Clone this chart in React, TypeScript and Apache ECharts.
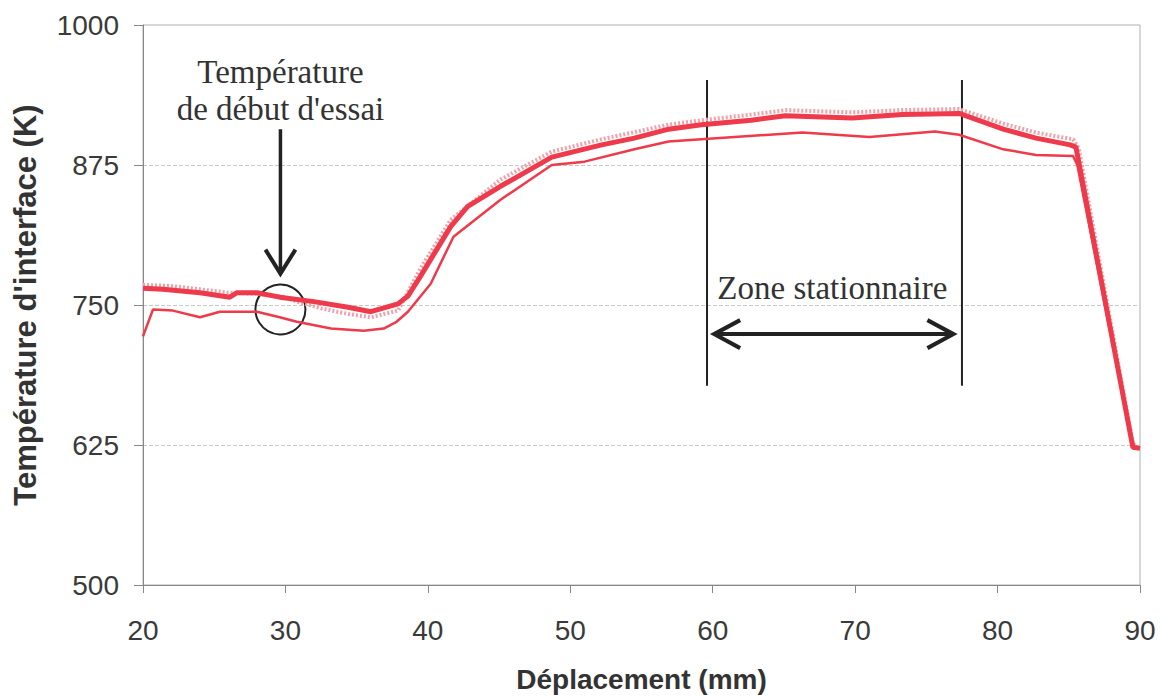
import React, { useEffect, useRef } from "react";
import * as echarts from "echarts";

// Thick red curve
const upperX = [20, 21.4, 24, 26.1, 26.6, 28, 29.6, 32, 34.4, 36, 37.9, 38.6, 39.5, 40.5, 41.6, 42.8, 45.1, 48.7, 52.2, 54.5, 56.9, 59.2, 62.7, 65.1, 69.8, 73.3, 77.3, 80.4, 82.7, 85.1, 85.5, 89.5, 90];
const upperY = [765, 764, 761, 757, 761, 761, 757, 753, 748, 744, 751, 758, 776, 797, 820, 838, 856, 882, 893, 899, 907, 911, 915, 919, 917, 920, 921, 907, 899, 893, 891, 623, 622];

// Thin red curve (lower)
const lowerX = [20, 20.7, 22.1, 24, 25.4, 28, 29.6, 30.8, 33.2, 35.5, 36.9, 37.8, 38.6, 40.2, 41.8, 45.1, 48.7, 51, 54.5, 56.9, 59.2, 66.3, 71, 75.6, 77.3, 80.4, 82.7, 85.3, 85.6, 89.5, 90];
const lowerY = [722, 746, 745, 739, 744, 744, 739, 735, 729, 727, 729, 735, 744, 769, 811, 844, 875, 878, 889, 896, 898, 904, 900, 905, 902, 889, 884, 883, 875, 623, 622];

// Light dotted pink curve
const pinkX = [20, 22, 24, 26, 28, 30, 30.8, 32.5, 34.4, 36, 37.9, 39.5, 41.6, 45.1, 48.7, 52.2, 56.9, 59.2, 62.7, 65.1, 69.8, 73.3, 77.3, 80.4, 82.7, 85.3, 85.7, 89.5, 90];
const pinkY = [768, 767, 764, 761, 760, 757, 753, 747, 742, 739, 745, 783, 826, 862, 887, 898, 911, 915, 920, 924, 922, 924, 925, 912, 904, 898, 890, 626, 622];

const xTicks = [20, 30, 40, 50, 60, 70, 80, 90];
const yTicks = [500, 625, 750, 875, 1000];

// Annotation anchors (data coordinates)
const startPoint = [29.65, 746];
const startArrowTop = [29.65, 907];
const startArrowTip = [29.65, 778];
const startLabelLines = ["Température", "de début d'essai"];
const startLabelY = [958, 925];
const zoneBounds = [59.6, 77.5];
const zoneLineY = [951, 678];
const zoneArrowX = [60.1, 76.9];
const zoneArrowY = 724;
const zoneLabel = "Zone stationnaire";
const zoneLabelPos = [68.4, 765];

const zip = (xs: number[], ys: number[]) => xs.map((x, i) => [x, ys[i]]);

export default function App() {
  const ref = useRef<HTMLDivElement>(null);
  useEffect(() => {
    const chart = echarts.init(ref.current!, null, { renderer: "svg" });
    const red = "#ee3a4a";
    chart.setOption({
      animation: false,
      backgroundColor: "#ffffff",
      grid: { left: 143, right: 22, top: 25, bottom: 111, show: true, borderColor: "#b0b0b0", borderWidth: 1 },
      xAxis: {
        type: "value",
        min: xTicks[0],
        max: xTicks[xTicks.length - 1],
        interval: 10,
        name: "Déplacement (mm)",
        nameLocation: "middle",
        nameGap: 80,
        nameTextStyle: { fontFamily: "Liberation Sans", fontWeight: "bold", fontSize: 28, color: "#333" },
        axisLine: { lineStyle: { color: "#888", width: 1 } },
        axisTick: { show: true, length: 8, lineStyle: { color: "#888" } },
        axisLabel: { fontFamily: "Liberation Sans", fontSize: 28, color: "#3a3a3a", margin: 31, formatter: (v: number) => String(v) },
        splitLine: { show: false },
      },
      yAxis: {
        type: "value",
        min: yTicks[0],
        max: yTicks[yTicks.length - 1],
        interval: 125,
        name: "Température d'interface (K)",
        nameLocation: "middle",
        nameGap: 102,
        nameTextStyle: { fontFamily: "Liberation Sans", fontWeight: "bold", fontSize: 31, color: "#333" },
        axisLine: { show: true, lineStyle: { color: "#888", width: 1 } },
        axisTick: { show: true, length: 9, lineStyle: { color: "#888" } },
        axisLabel: { fontFamily: "Liberation Sans", fontSize: 28, color: "#3a3a3a", margin: 24, formatter: (v: number) => String(v) },
        splitLine: { show: true, showMinLine: false, showMaxLine: false, lineStyle: { color: "#c8c8c8", type: "dashed", width: 1 } },
      },
      series: [
        {
          type: "line",
          data: zip(pinkX, pinkY),
          showSymbol: false,
          silent: true,
          lineStyle: { color: "#f2a0a8", width: 4, type: [2, 2] },
        },
        {
          type: "line",
          data: zip(upperX, upperY),
          showSymbol: false,
          silent: true,
          lineStyle: { color: red, width: 5 },
        },
        {
          type: "line",
          data: zip(lowerX, lowerY),
          showSymbol: false,
          silent: true,
          lineStyle: { color: red, width: 2.5 },
        },
      ],
    });

    const p = (x: number, y: number) => chart.convertToPixel({ gridIndex: 0 }, [x, y]) as number[];
    const ink = "#222";
    const graphic: any[] = [];

    // vertical arrow + circle
    const top = p(startArrowTop[0], startArrowTop[1]);
    const tip = p(startArrowTip[0], startArrowTip[1]);
    graphic.push({ type: "line", shape: { x1: top[0], y1: top[1], x2: tip[0], y2: tip[1] - 2 }, style: { stroke: ink, lineWidth: 3.5 } });
    graphic.push({ type: "polyline", shape: { points: [[tip[0] - 15, tip[1] - 24], [tip[0], tip[1]], [tip[0] + 15, tip[1] - 24]] }, style: { stroke: ink, lineWidth: 4, fill: null } });
    const c = p(startPoint[0], startPoint[1]);
    graphic.push({ type: "circle", shape: { cx: c[0], cy: c[1], r: 25 }, style: { stroke: ink, lineWidth: 2, fill: null } });
    startLabelLines.forEach((t, i) => {
      const q = p(startPoint[0], startLabelY[i]);
      graphic.push({ type: "text", x: q[0], y: q[1], style: { text: t, fontFamily: "Liberation Serif", fontSize: 33, fill: "#333", align: "center", verticalAlign: "middle" } });
    });

    // zone lines
    zoneBounds.forEach((bx) => {
      const a = p(bx, zoneLineY[0]);
      const b = p(bx, zoneLineY[1]);
      graphic.push({ type: "line", shape: { x1: a[0], y1: a[1], x2: b[0], y2: b[1] }, style: { stroke: ink, lineWidth: 2 } });
    });
    const l = p(zoneArrowX[0], zoneArrowY);
    const r = p(zoneArrowX[1], zoneArrowY);
    graphic.push({ type: "line", shape: { x1: l[0] + 2, y1: l[1], x2: r[0] - 2, y2: r[1] }, style: { stroke: ink, lineWidth: 4 } });
    graphic.push({ type: "polyline", shape: { points: [[l[0] + 26, l[1] - 14], [l[0], l[1]], [l[0] + 26, l[1] + 14]] }, style: { stroke: ink, lineWidth: 4, fill: null } });
    graphic.push({ type: "polyline", shape: { points: [[r[0] - 26, r[1] - 14], [r[0], r[1]], [r[0] - 26, r[1] + 14]] }, style: { stroke: ink, lineWidth: 4, fill: null } });
    const zt = p(zoneLabelPos[0], zoneLabelPos[1]);
    graphic.push({ type: "text", x: zt[0], y: zt[1], style: { text: zoneLabel, fontFamily: "Liberation Serif", fontSize: 33, fill: "#333", align: "center", verticalAlign: "middle" } });

    chart.setOption({ graphic });
    return () => chart.dispose();
  }, []);

  return <div ref={ref} style={{ position: "fixed", left: 0, top: 0, width: 1162, height: 698 }} />;
}
